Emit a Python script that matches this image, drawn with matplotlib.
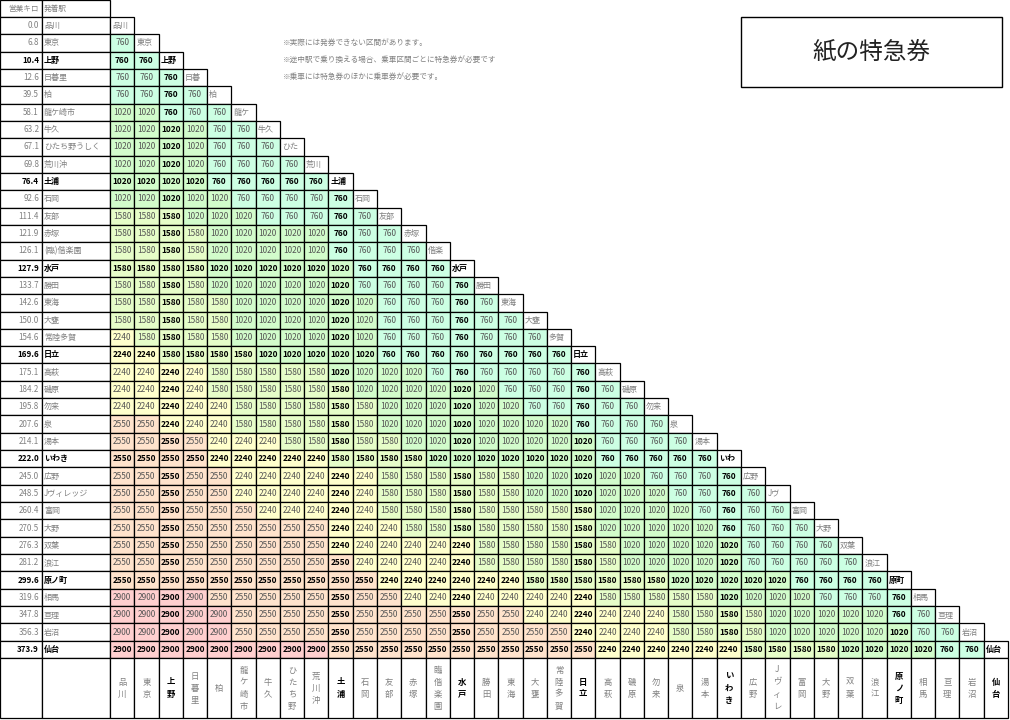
import matplotlib
matplotlib.use("Agg")
import matplotlib.pyplot as plt
from matplotlib.patches import Rectangle
import re

plt.rcParams['font.family'] = ['Noto Sans CJK JP', 'DejaVu Sans']

stations = ["品川","東京","上野","日暮里","柏","龍ケ崎市","牛久","ひたち野うしく","荒川沖","土浦",
            "石岡","友部","赤塚","(臨)偕楽園","水戸","勝田","東海","大甕","常陸多賀","日立",
            "高萩","磯原","勿来","泉","湯本","いわき","広野","Jヴィレッジ","富岡","大野",
            "双葉","浪江","原ノ町","相馬","亘理","岩沼","仙台"]
short = ["品川","東京","上野","日暮","柏","龍ケ","牛久","ひた","荒川","土浦","石岡","友部","赤塚","偕楽",
         "水戸","勝田","東海","大甕","多賀","日立","高萩","磯原","勿来","泉","湯本","いわ","広野","Jヴ",
         "富岡","大野","双葉","浪江","原町","相馬","亘理","岩沼","仙台"]
km = [0.0,6.8,10.4,12.6,39.5,58.1,63.2,67.1,69.8,76.4,92.6,111.4,121.9,126.1,127.9,133.7,142.6,150.0,
      154.6,169.6,175.1,184.2,195.8,207.6,214.1,222.0,245.0,248.5,260.4,270.5,276.3,281.2,299.6,319.6,
      347.8,356.3,373.9]
major = ["上野","土浦","水戸","日立","いわき","原ノ町","仙台"]
bottom_labels = ["品川","東京","上野","日暮里","柏","龍ケ崎市","牛久","ひたち野","荒川沖","土浦","石岡","友部",
                 "赤塚","臨偕楽園","水戸","勝田","東海","大甕","常陸多賀","日立","高萩","磯原","勿来","泉","湯本",
                 "いわき","広野","Jヴィレ","富岡","大野","双葉","浪江","原ノ町","相馬","亘理","岩沼","仙台"]
fare_codes = {"a": 760, "b": 1020, "c": 1580, "d": 2240, "e": 2550, "f": 2900}
fare_rows = ["", "a1", "a2", "a3", "a4", "b2a3", "b4a2", "b4a3", "b4a4", "b4a5",
             "b5a5", "c3b3a5", "c4b5a3", "c4b5a4", "c4b6a4", "c4b6a5", "c5b6a5", "c5b6a6",
             "d1c4b6a7", "d2c4b5a8", "d4c5b4a7", "d4c6b6a5", "d5c6b6a5", "e2d3c6b8a4",
             "e4d3c5b8a4", "e4d5c4b7a5", "e5d6c6b5a4", "e5d6c6b6a4", "e6d5c9b4a4",
             "e9d3c8b5a4", "e9d6c6b5a4", "e10d5c6b5a5", "e11d6c6b5a4", "f4e8d8c5b4a4",
             "f5e12d6c4b5a2", "f5e14d4c4b6a2", "f9e11d6c4b4a2"]
fare_colors = {760: "#ccffe3", 1020: "#d2fccb", 1580: "#e6fdc8", 2240: "#ffffcc", 2550: "#ffe3cc", 2900: "#ffcfcf"}
notes = ["※実際には発券できない区間があります。",
         "※途中駅で乗り換える場合、乗車区間ごとに特急券が必要です",
         "※乗車には特急券のほかに乗車券が必要です。"]
title = "紙の特急券"

matrix = []
for r in fare_rows:
    row = []
    for ch, cnt in re.findall(r"([a-f])(\d+)", r):
        row += [fare_codes[ch]] * int(cnt)
    matrix.append(row)

fig = plt.figure(figsize=(10.1, 7.2), dpi=100)
ax = fig.add_axes([0, 0, 1, 1])
ax.set_xlim(0, 1010); ax.set_ylim(720, 0); ax.axis('off')

n = len(stations)
x0, x1, xs = 0, 42, 110
cw = (1008 - xs) / n
top = 17
rh = (658 - top) / n
grey = "#808080"
lw = 0.9

def cell(x, y, w, h, fc="white"):
    ax.add_patch(Rectangle((x, y), w, h, facecolor=fc, edgecolor="black", lw=lw))

cell(x0, 0, x1 - x0, top); cell(x1, 0, xs - x1, top)
ax.text(x1 - 3, top / 2, "営業キロ", ha="right", va="center", fontsize=5.5, color=grey)
ax.text(x1 + 2, top / 2, "発着駅", ha="left", va="center", fontsize=5.5, color=grey)

for i in range(n):
    y = top + i * rh
    isb = stations[i] in major
    fw = "bold" if isb else "normal"
    col = "black" if isb else grey
    cell(x0, y, x1 - x0, rh); cell(x1, y, xs - x1, rh)
    ax.text(x1 - 3, y + rh / 2, f"{km[i]:.1f}", ha="right", va="center", fontsize=5.8, color=col, fontweight=fw)
    ax.text(x1 + 2, y + rh / 2, stations[i], ha="left", va="center", fontsize=5.8, color=col, fontweight=fw)
    for j in range(i + 1):
        x = xs + j * cw
        if j == i:
            cell(x, y, cw, rh)
            ax.text(x + 2, y + rh / 2, short[i], ha="left", va="center", fontsize=5.8, color=col, fontweight=fw)
        elif j < len(matrix[i]):
            f = matrix[i][j]
            cell(x, y, cw, rh, fare_colors[f])
            b = isb or stations[j] in major
            ax.text(x + cw / 2, y + rh / 2, str(f), ha="center", va="center", fontsize=6.0,
                    color="black" if b else "#555555", fontweight="bold" if b else "normal")

yb = top + n * rh
hb = 718 - yb
cell(x0, yb, x1 - x0, hb); cell(x1, yb, xs - x1, hb)
for j in range(n):
    x = xs + j * cw
    cell(x, yb, cw, hb)
    lab = bottom_labels[j]
    isb = stations[j] in major
    m = len(lab)
    step = 12
    for k, ch in enumerate(lab):
        yy = yb + hb / 2 + (k - (m - 1) / 2) * step
        ax.text(x + cw / 2, yy, ch, ha="center", va="center", fontsize=6,
                color="black" if isb else grey, fontweight="bold" if isb else "normal")

for k, t in enumerate(notes):
    ax.text(283, 43 + k * 17, t, ha="left", va="center", fontsize=5.5, color=grey)

ax.add_patch(Rectangle((741, 17), 261, 70, facecolor="white", edgecolor="black", lw=1))
ax.text(871, 52, title, ha="center", va="center", fontsize=17, color="#222222")

fig.savefig("out.png", dpi=100)
